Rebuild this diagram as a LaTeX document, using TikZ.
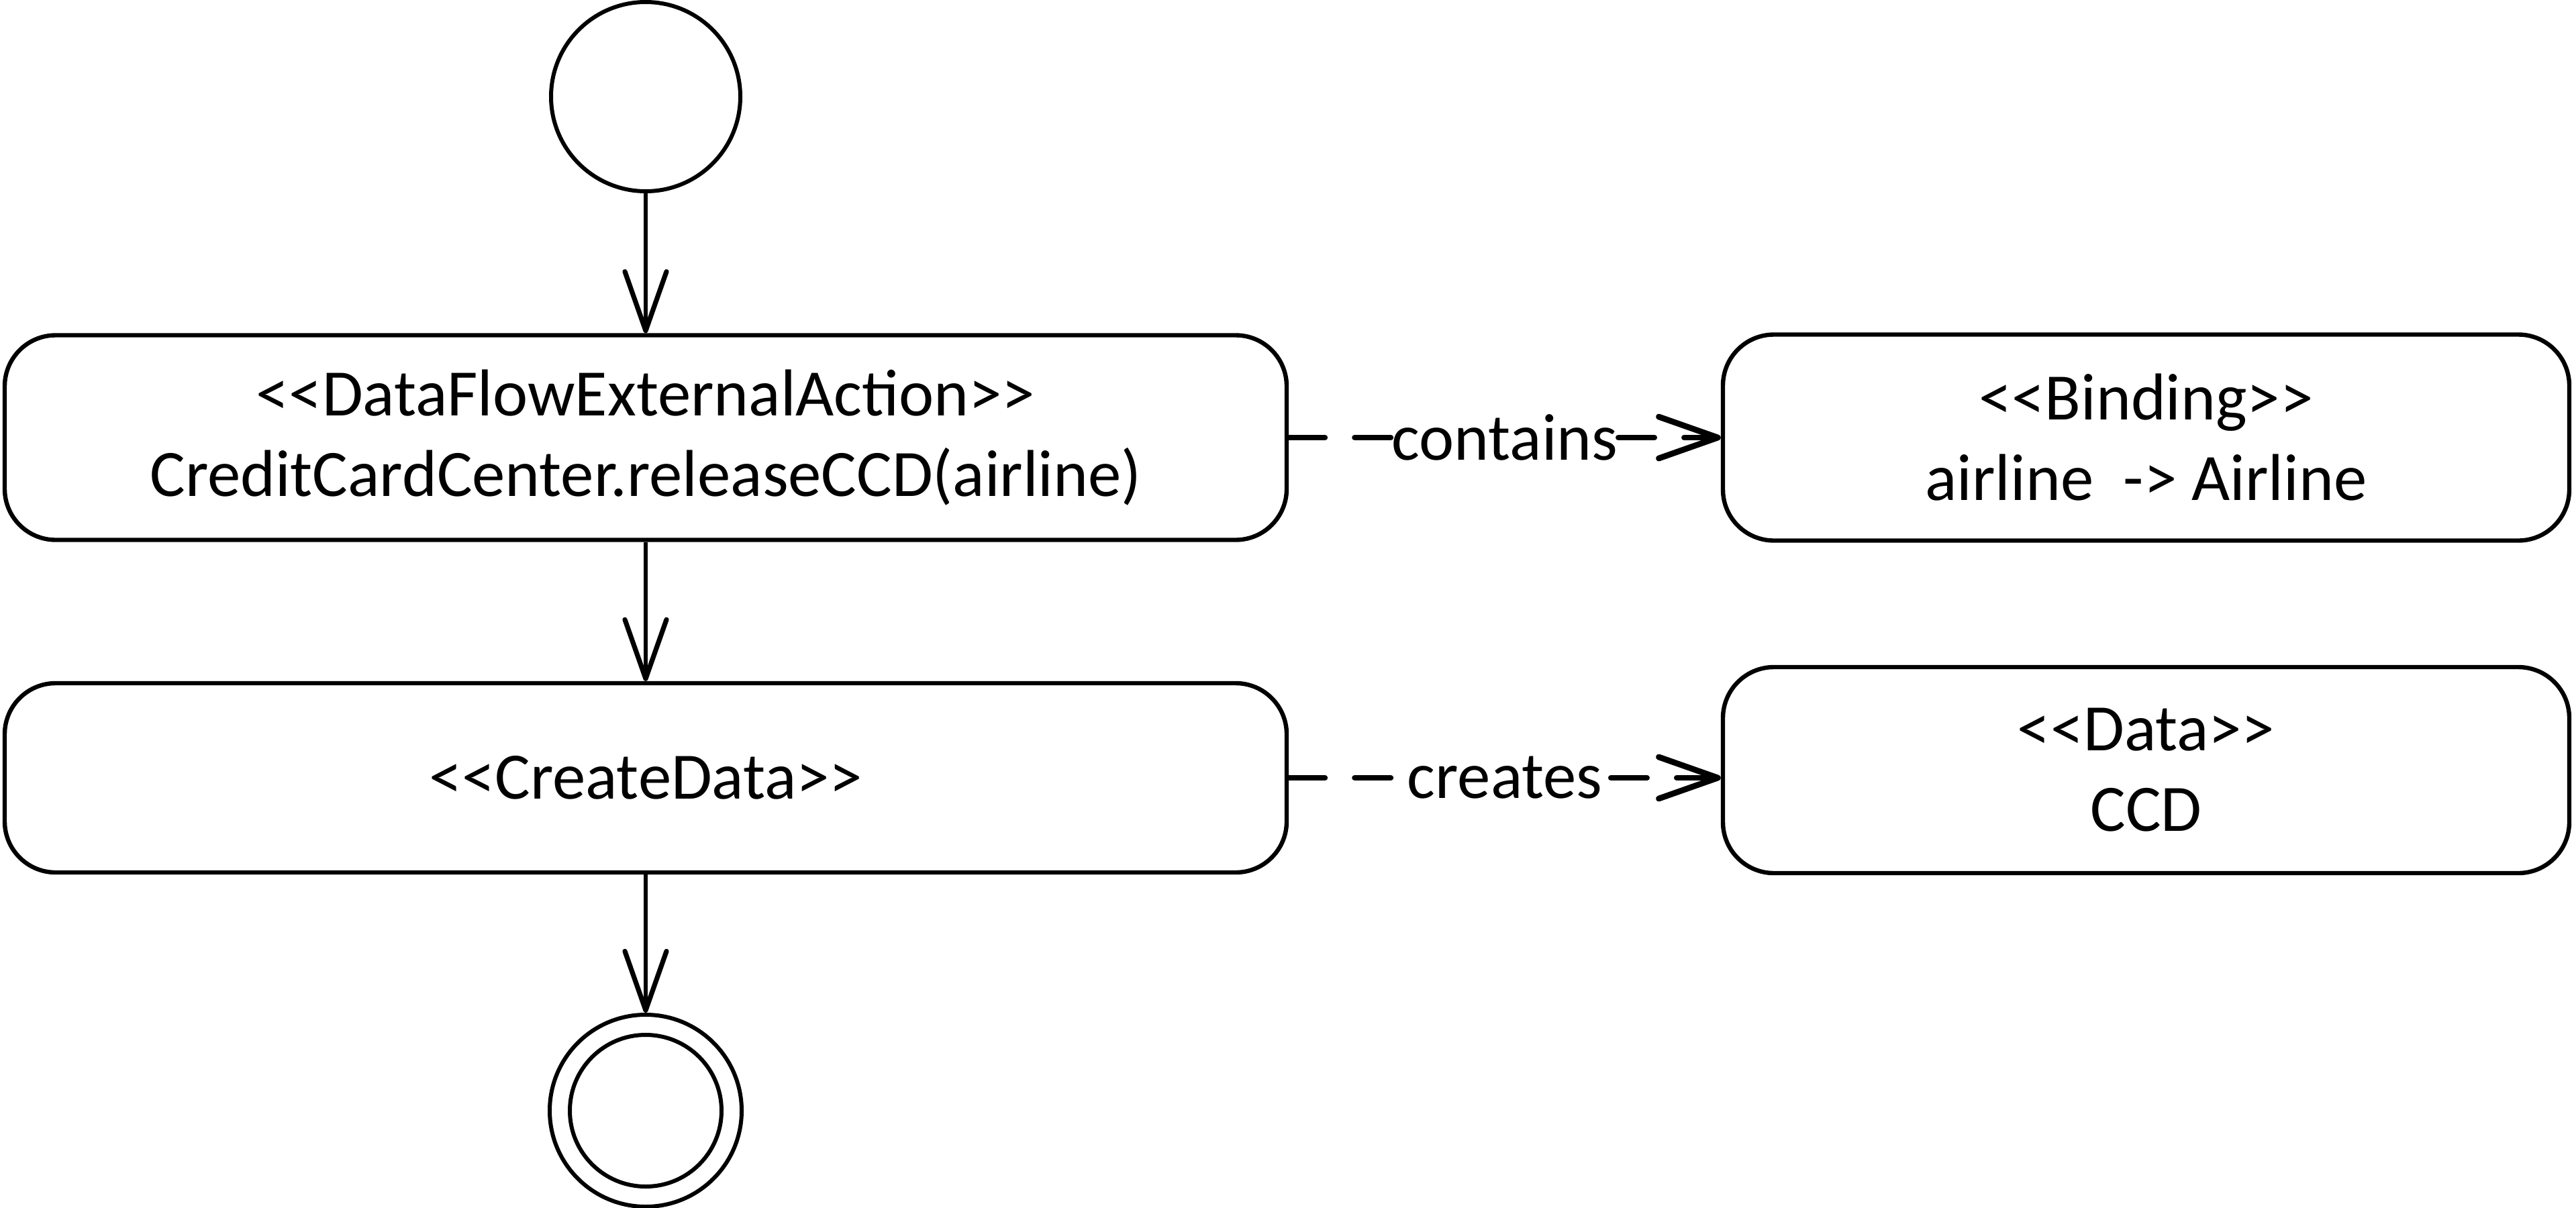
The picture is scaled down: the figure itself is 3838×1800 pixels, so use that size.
\documentclass[tikz,border=0pt]{standalone}
\usepackage{fontspec}
\setmainfont{Carlito}
\usetikzlibrary{arrows.meta,calc}
\begin{document}
\begin{tikzpicture}[x=0.25pt,y=-0.25pt,
  txt/.style={font=\fontsize{24.7}{30}\selectfont},
  act/.style={txt, draw, line width=1.6pt, rounded corners=19pt, align=center, inner sep=0pt},
  state/.style={draw, circle, line width=1.5pt, inner sep=0pt},
  flow/.style={line width=1.7pt, -{Straight Barb[length=22pt, width=15.5pt, line width=1.8pt, round]}},
  dep/.style={line width=2pt, dash pattern=on 13.5pt off 11pt, line cap=round},
  deparrow/.style={dep, -{Straight Barb[length=22pt, width=15.5pt, line width=2.2pt, round]}},
  lbl/.style={txt, inner xsep=0pt, inner ysep=1pt}
]
\useasboundingbox (0,0) rectangle (3838,1800);

\node[state, minimum size=70.5pt] (start) at (962,144) {};
\node[act, minimum width=477.5pt, minimum height=76.25pt] (a1) at (962,652)
  {<{}<DataFlowExternalAction>{}>\\CreditCardCenter.releaseCCD(airline)};
\node[act, minimum width=477.5pt, minimum height=70.5pt] (a2) at (962,1159)
  {<{}<CreateData>{}>};
\node[act, minimum width=315.25pt, minimum height=76.75pt] (bind) at (3197.5,652)
  {<{}<Binding>{}>\\airline\ \ -> Airline};
\node[act, minimum width=315.25pt, minimum height=76.75pt] (data) at (3197.5,1147.5)
  {<{}<Data>{}>\\CCD};
\node[state, minimum size=71.5pt] (final) at (962,1655) {};
\node[state, minimum size=56.5pt] (finalin) at (962,1655) {};

\draw[flow] (start) -- (a1);
\draw[flow] (a1) -- (a2);
\draw[flow] (a2) -- (final);

\node[lbl] (lc) at ($(a1.east)!0.5!(bind.west)$) {contains};
\draw[dep] (a1.east) -- (lc.west);
\draw[deparrow] (lc.east) -- (bind.west);

\coordinate (dt) at (a2.east -| data.west);
\node[lbl, inner xsep=3pt] (lr) at ($(a2.east)!0.5!(dt)$) {creates};
\draw[dep] (a2.east) -- (lr.west);
\draw[deparrow] (lr.east) -- (dt);
\end{tikzpicture}
\end{document}
